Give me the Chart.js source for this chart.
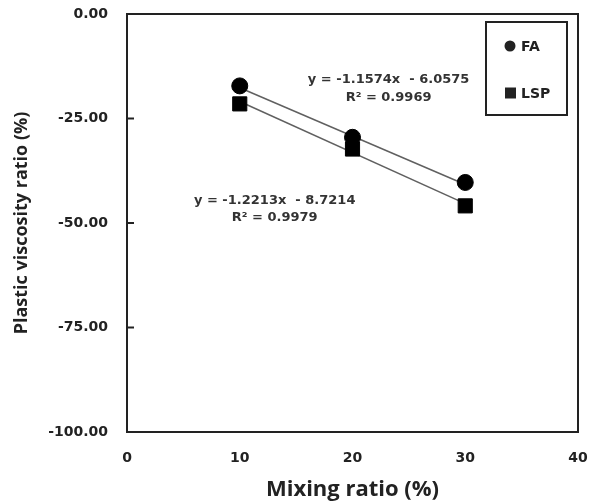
<!DOCTYPE html>
<html>
<head>
<meta charset="utf-8">
<script src="https://cdn.jsdelivr.net/npm/chart.js@4"></script>
<style>
  html, body { margin: 0; padding: 0; background: #fff; }
  #wrap { width: 597px; height: 504px; }
</style>
</head>
<body>
<div id="wrap"><canvas id="myChart"></canvas></div>
<script>
const mixing = [10, 20, 30];
const faValues = [-17.2, -29.5, -40.3];
const lspValues = [-21.5, -32.3, -45.9];
// trend line: [slope, intercept]
const faFit = [-1.1574, -6.0575];
const lspFit = [-1.2213, -8.7214];
const xTicks = [0, 10, 20, 30, 40];
const yTicks = [0, -25, -50, -75, -100];

const FONT = "'DejaVu Sans'";
const TITLE_FONT = "'Open Sans'";
const INK = '#222';

const toPoints = (xs, ys) => xs.map((x, i) => ({ x: x, y: ys[i] }));
const trend = (fit) => [mixing[0], mixing[mixing.length - 1]].map(x => ({ x: x, y: fit[0] * x + fit[1] }));
const fmtFit = (fit) => 'y = ' + fit[0].toFixed(4) + 'x  - ' + Math.abs(fit[1]).toFixed(4);

const labelNotes = [
  { x: 23.2, y: -15.8, text: fmtFit(faFit) },
  { x: 23.2, y: -19.9, text: 'R\u00B2 = 0.9969' },
  { x: 13.1, y: -44.6, text: fmtFit(lspFit) },
  { x: 13.1, y: -48.7, text: 'R\u00B2 = 0.9979' }
];

const framePlugin = {
  id: 'frame',
  afterDraw(chart) {
    const { ctx, chartArea: a, scales } = chart;
    ctx.save();
    ctx.strokeStyle = INK;
    ctx.lineWidth = 2;
    ctx.strokeRect(a.left, a.top, a.right - a.left, a.bottom - a.top);
    // inner ticks on y axis
    yTicks.forEach(v => {
      const py = scales.y.getPixelForValue(v);
      ctx.beginPath();
      ctx.moveTo(a.left, py);
      ctx.lineTo(a.left + 7, py);
      ctx.stroke();
    });
    // equations
    ctx.fillStyle = '#333';
    ctx.font = 'bold 13px ' + FONT;
    ctx.textAlign = 'center';
    ctx.textBaseline = 'middle';
    labelNotes.forEach(n => {
      ctx.fillText(n.text, scales.x.getPixelForValue(n.x), scales.y.getPixelForValue(n.y));
    });
    // legend box
    const lx = 486, ly = 22, lw = 81, lh = 93;
    ctx.lineWidth = 2;
    ctx.strokeRect(lx, ly, lw, lh);
    ctx.textAlign = 'left';
    ctx.fillStyle = INK;
    ctx.font = 'bold 14px ' + FONT;
    chart.data.datasets.slice(0, 2).forEach((ds, i) => {
      const cy = ly + 24 + i * 47;
      ctx.beginPath();
      if (ds.pointStyle === 'rect') {
        ctx.rect(lx + 19, cy - 5.5, 11, 11);
      } else {
        ctx.arc(lx + 24, cy, 5.5, 0, Math.PI * 2);
      }
      ctx.fill();
      ctx.fillText(ds.label, lx + 35, cy + 1);
    });
    ctx.restore();
  }
};

const ctx = document.getElementById('myChart');
const myChart = new Chart(ctx, {
  type: 'scatter',
  data: {
    datasets: [{
      label: 'FA',
      data: toPoints(mixing, faValues),
      pointStyle: 'circle',
      pointRadius: 8,
      backgroundColor: '#000',
      borderColor: '#000',
      order: 1
    }, {
      label: 'LSP',
      data: toPoints(mixing, lspValues),
      pointStyle: 'rect',
      pointRadius: 10,
      backgroundColor: '#000',
      borderColor: '#000',
      order: 1
    }, {
      label: 'FA fit',
      data: trend(faFit),
      showLine: true,
      pointRadius: 0,
      borderColor: '#606060',
      borderWidth: 1.5,
      order: 2
    }, {
      label: 'LSP fit',
      data: trend(lspFit),
      showLine: true,
      pointRadius: 0,
      borderColor: '#606060',
      borderWidth: 1.5,
      order: 2
    }]
  },
  options: {
    responsive: true,
    maintainAspectRatio: false,
    animation: false,
    layout: { padding: { left: 0, top: 14, right: 19, bottom: 0 } },
    scales: {
      x: {
        type: 'linear',
        min: 0,
        max: 40,
        afterBuildTicks: (scale) => { scale.ticks = xTicks.map(v => ({ value: v })); },
        afterFit: (scale) => {
          scale.height = 72;
          scale.paddingLeft = 5;
          scale.paddingRight = 10;
        },
        grid: { display: false, drawTicks: false },
        border: { display: false },
        ticks: {
          color: INK,
          padding: 18,
          font: { family: FONT, size: 14, weight: 'bold' }
        },
        title: {
          display: true,
          text: 'Mixing ratio (%)',
          color: INK,
          padding: { top: 0, bottom: 1 },
          font: { family: TITLE_FONT, size: 22, weight: 'bold' }
        }
      },
      y: {
        min: -100,
        max: 0,
        afterBuildTicks: (scale) => { scale.ticks = yTicks.map(v => ({ value: v })); },
        afterFit: (scale) => {
          scale.width = 127;
          scale.paddingTop = 8;
          scale.paddingBottom = 8;
        },
        grid: { display: false, drawTicks: false },
        border: { display: false },
        ticks: {
          color: INK,
          padding: 19,
          font: { family: FONT, size: 14, weight: 'bold' },
          callback: (v) => v.toFixed(2)
        },
        title: {
          display: true,
          text: 'Plastic viscosity ratio (%)',
          color: INK,
          padding: { top: 11, bottom: 0 },
          font: { family: TITLE_FONT, size: 18, weight: 'bold' }
        }
      }
    },
    plugins: {
      legend: { display: false },
      tooltip: { enabled: false }
    }
  },
  plugins: [framePlugin]
});
</script>
</body>
</html>
